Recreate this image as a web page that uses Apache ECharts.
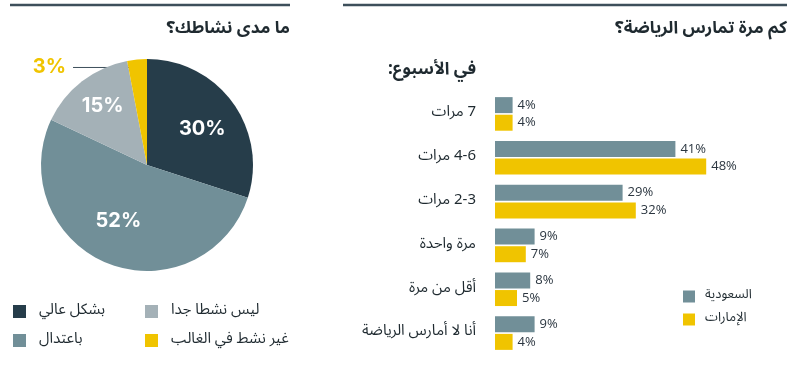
<!DOCTYPE html>
<html>
<head>
<meta charset="utf-8">
<script src="https://cdn.jsdelivr.net/npm/echarts@6/dist/echarts.min.js"></script>
<style>
html,body{margin:0;padding:0;background:#fff;}
#c{width:802px;height:386px;}
</style>
</head>
<body>
<div id="c" dir="rtl"></div>
<script>
const pieNames = ['بشكل عالي', 'باعتدال', 'ليس نشطا جدا', 'غير نشط في الغالب'];
const pieValues = [30, 52, 15, 3];
const pieColors = ['#263d4a', '#718f98', '#a4b1b7', '#f0c400'];
const categories = ['7 مرات', '4-6 مرات', '2-3 مرات', 'مرة واحدة', 'أقل من مرة', 'أنا لا أمارس الرياضة'];
const seriesNames = ['السعودية', 'الإمارات'];
const saudiValues = [4, 41, 29, 9, 8, 9];
const uaeValues = [4, 48, 32, 7, 5, 4];
const barColors = ['#718f98', '#f0c400'];

const arFont = '"Noto Sans Arabic", "DejaVu Sans", sans-serif';
const numFont = '"Open Sans", "DejaVu Sans", sans-serif';
const pieOffsets = [[10, -3], [-8, 4], [-10, -15], [0, 0]];

const chart = echarts.init(document.getElementById('c'), null, {renderer: 'canvas'});
chart.setOption({
  animation: false,
  backgroundColor: '#ffffff',
  graphic: [
    {type: 'line', shape: {x1: 10, y1: 5, x2: 290, y2: 5}, style: {stroke: '#3d4f5b', lineWidth: 2.5}},
    {type: 'line', shape: {x1: 343, y1: 5, x2: 787, y2: 5}, style: {stroke: '#3d4f5b', lineWidth: 2.5}}
  ],
  title: [
    {text: 'ما مدى نشاطك؟', right: 512, top: 22, padding: 0,
     textStyle: {fontFamily: arFont, fontSize: 17, fontWeight: 'bold', color: '#1f2a30'}},
    {text: 'كم مرة تمارس الرياضة؟', right: 15, top: 22, padding: 0,
     textStyle: {fontFamily: arFont, fontSize: 17, fontWeight: 'bold', color: '#1f2a30'}},
    {text: 'في الأسبوع:', right: 326, top: 63, padding: 0,
     textStyle: {fontFamily: arFont, fontSize: 17, fontWeight: 'bold', color: '#1f2a30'}}
  ],
  legend: [
    {left: 8, top: 299, orient: 'vertical', icon: 'rect', itemWidth: 13, itemHeight: 13, itemGap: 14,
     data: [pieNames[0], pieNames[1]], selectedMode: false,
     textStyle: {fontFamily: arFont, fontSize: 15, color: '#1f2a30', lineHeight: 14, padding: [0, 0, 0, 8]}},
    {left: 140, top: 299, orient: 'vertical', icon: 'rect', itemWidth: 13, itemHeight: 13, itemGap: 14,
     data: [pieNames[2], pieNames[3]], selectedMode: false,
     textStyle: {fontFamily: arFont, fontSize: 15, color: '#1f2a30', lineHeight: 14, padding: [0, 0, 0, 8]}},
    {left: 678, top: 285, orient: 'vertical', icon: 'rect', itemWidth: 12, itemHeight: 12, itemGap: 10,
     data: seriesNames, selectedMode: false,
     textStyle: {fontFamily: arFont, fontSize: 13, color: '#1f2a30', lineHeight: 12, padding: [0, 0, 0, 5]}}
  ],
  grid: {left: 495, top: 92, width: 290.4, height: 263},
  xAxis: {type: 'value', min: 0, max: 66, show: false},
  yAxis: {
    type: 'category', data: categories, inverse: true,
    axisLine: {show: false}, axisTick: {show: false}, splitLine: {show: false},
    axisLabel: {margin: 19, fontFamily: arFont, fontSize: 15, color: '#1f2a30'}
  },
  series: [
    {
      type: 'pie', center: [147, 165], radius: 106, startAngle: 90, clockwise: true,
      silent: true,
      data: pieNames.map((n, i) => ({
        name: n, value: pieValues[i],
        itemStyle: {color: pieColors[i]},
        label: i < 3 ? {position: 'inside', offset: pieOffsets[i], color: '#ffffff'}
                     : {position: 'outside', color: '#f0c400'},
        labelLine: i < 3 ? {show: false} : {show: true, length: 6, length2: 60,
                     lineStyle: {color: '#3d4f5b', width: 1}}
      })),
      label: {formatter: '{c}%', fontFamily: '"Inter", sans-serif', fontWeight: 'bold', fontSize: 20},
      labelLayout: function (p) {
        if (p.dataIndex !== 3 || !p.labelLinePoints) return {};
        const s = p.labelLinePoints[0];
        const y = s[1] + 8;
        return {
          x: s[0] - 71, y: y, align: 'right', verticalAlign: 'middle',
          labelLinePoints: [[s[0] + 2, y], [s[0] - 64, y], [s[0] - 64, y]]
        };
      }
    },
    {
      name: seriesNames[0], type: 'bar', data: saudiValues, barWidth: 16, barGap: '10%',
      itemStyle: {color: barColors[0]}, silent: true,
      label: {show: true, position: 'right', distance: 5, formatter: '{c}%',
              fontFamily: numFont, fontSize: 13, color: '#2b3640'}
    },
    {
      name: seriesNames[1], type: 'bar', data: uaeValues, barWidth: 16, barGap: '10%',
      itemStyle: {color: barColors[1]}, silent: true,
      label: {show: true, position: 'right', distance: 5, formatter: '{c}%',
              fontFamily: numFont, fontSize: 13, color: '#2b3640'}
    }
  ]
});
</script>
</body>
</html>
